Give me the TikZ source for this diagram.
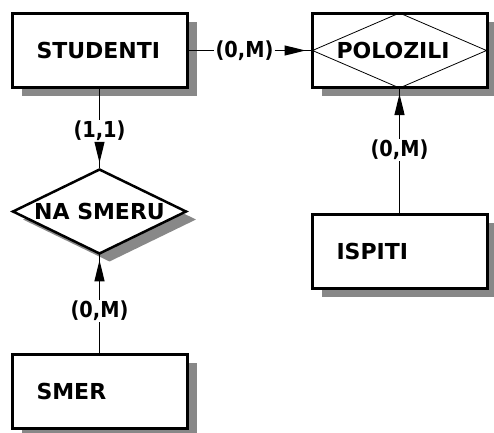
\documentclass[tikz,border=0pt]{standalone}
\usepackage{fontspec}
\setmainfont{DejaVu Sans}
\newfontfamily\cardfont{DejaVu Sans}[FakeStretch=0.88]
\usetikzlibrary{shapes.geometric,shadows,arrows.meta,decorations.markings,calc}
\definecolor{shade}{RGB}{136,136,136}
\tikzset{
  shad/.style={drop shadow={shadow xshift=10pt,shadow yshift=-8pt,fill=shade,opacity=1}},
  entity/.style={draw,line width=3pt,fill=white,shad,minimum width=175pt,minimum height=74pt,
    text width=126pt,inner xsep=24.5pt,align=left,font=\bfseries\fontsize{22}{24}\selectfont},
  relation/.style={draw,diamond,line width=2.5pt,fill=white,shad,minimum width=174pt,minimum height=85pt,
    inner sep=0pt,aspect=2,font=\bfseries\fontsize{22}{24}\selectfont},
  card/.style={font=\cardfont\bfseries\fontsize{22}{24}\selectfont,inner sep=1pt},
  conn/.style={line width=1.2pt},
  arrowed/.style={postaction={decorate},decoration={markings,
    mark=at position -5pt with {\arrow{Triangle[length=21pt,width=10pt]}}}}
}
\begin{document}
\begin{tikzpicture}[x=1pt,y=-1pt]
\useasboundingbox (0,0) rectangle (494,432);
\node[entity] (studenti) at (99.5,50.5) {STUDENTI};
\node[entity] (polozili) at (399.5,50.5) {POLOZILI};
\node[entity] (ispiti) at (399.5,251.5) {ISPITI};
\node[entity] (smer) at (99.5,391.5) {SMER};
\node[relation] (nasmeru) at (99.5,211.5) {NA SMERU};
\draw[line width=0.8pt] ($(polozili.center)+(-87,0)$) -- ($(polozili.center)+(0,-37.5)$)
  -- ($(polozili.center)+(87,0)$) -- ($(polozili.center)+(0,37.5)$) -- cycle;
\node[card] (c1) at (244.5,50.5) {(0,M)};
\node[card] (c2) at (99.5,131) {(1,1)};
\node[card] (c3) at (99.5,311) {(0,M)};
\node[card] (c4) at (399.5,150) {(0,M)};
\draw[conn] (studenti) -- (c1);
\draw[conn,arrowed] (c1) -- (polozili);
\draw[conn] (studenti) -- (c2);
\draw[conn,arrowed] (c2) -- (nasmeru);
\draw[conn] (smer) -- (c3);
\draw[conn,arrowed] (c3) -- (nasmeru);
\draw[conn] (ispiti) -- (c4);
\draw[conn,arrowed] (c4) -- (polozili);
\end{tikzpicture}
\end{document}
